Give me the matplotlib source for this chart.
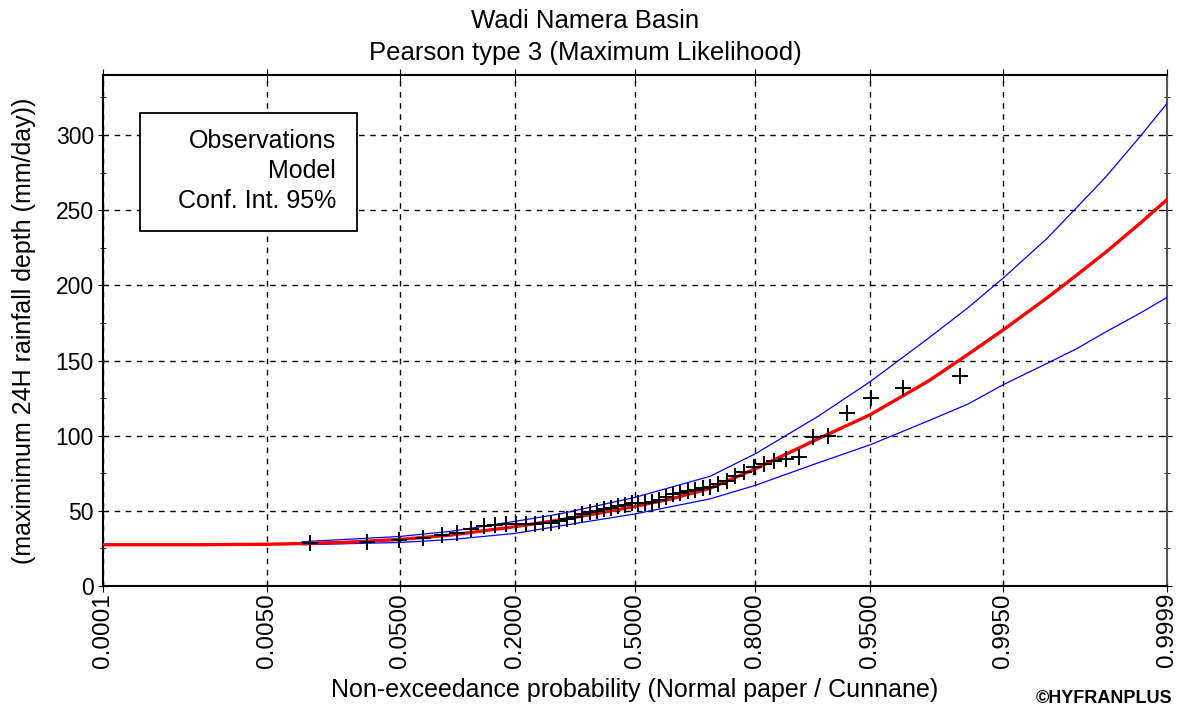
import matplotlib
matplotlib.use('Agg')
import matplotlib.pyplot as plt
from matplotlib.patches import Rectangle
from statistics import NormalDist

plt.rcParams['font.family'] = ['Liberation Sans', 'DejaVu Sans']

nd = NormalDist()

# x axis ticks (non-exceedance probability on normal paper)
tick_probs = [0.0001, 0.005, 0.05, 0.2, 0.5, 0.8, 0.95, 0.995, 0.9999]
tick_labels = ['0.0001', '0.0050', '0.0500', '0.2000', '0.5000', '0.8000', '0.9500', '0.9950', '0.9999']

# observed maxima (sorted), plotted at Cunnane positions
obs = [28.5, 29.5, 30.5, 32, 34, 35.5, 38, 40, 40.5, 41, 41, 41, 41.5, 42, 42, 43,
       44.5, 46, 48, 49, 50, 51.5, 52, 53, 54, 55, 55, 55.5, 56, 57, 59, 61, 62, 63,
       64, 65, 66, 68, 70, 73, 76, 79, 81, 83, 84.5, 86, 99, 100, 115, 125, 132, 140]

# fitted model
model_p = [0.0001, 0.001, 0.005, 0.01, 0.02, 0.05, 0.1, 0.2, 0.3, 0.4, 0.5, 0.6, 0.7,
           0.8, 0.9, 0.95, 0.98, 0.99, 0.995, 0.998, 0.999, 0.9995, 0.9998, 0.9999]
model_v = [27.5, 27.5, 27.8, 28.3, 29, 31, 34, 39.5, 44, 48.5, 53, 58, 65,
           78, 98, 114, 136.5, 154, 170.5, 191.5, 207, 222, 242, 257]

# 95% confidence interval
ci_p = [0.01, 0.05, 0.1, 0.2, 0.3, 0.5, 0.7, 0.8, 0.9, 0.95, 0.98, 0.99, 0.995,
        0.998, 0.999, 0.9995, 0.9998, 0.9999]
ci_up = [29.5, 33, 36.5, 43, 48, 59, 73, 88, 113, 136, 165, 185, 205,
         231, 252, 272, 300, 321]
ci_lo = [27.5, 29, 31, 35, 40, 48, 58, 67, 82, 94, 110, 121, 134,
         148, 158, 169, 182, 192]


def z(p):
    return [nd.inv_cdf(v) for v in p]


n = len(obs)
obs_p = [(i + 1 - 0.4) / (n + 0.2) for i in range(n)]

fig = plt.figure(figsize=(11.84, 7.13), dpi=100)
ax = fig.add_axes([0.087, 0.178, 0.8986, 0.717])

ax.plot(z(ci_p), ci_up, color='#0000ff', lw=0.9, zorder=3)
ax.plot(z(ci_p), ci_lo, color='#0000ff', lw=0.9, zorder=3)
ax.plot(z(model_p), model_v, color='#ff0000', lw=2.4, zorder=4)
ax.plot(z(obs_p), obs, ls='none', marker='+', color='black', ms=11, mew=1.4, zorder=5)

ax.set_xlim(nd.inv_cdf(0.0001), nd.inv_cdf(0.9999))
ax.set_ylim(0, 340)
ax.set_xticks(z(tick_probs))
ax.set_xticklabels(tick_labels, rotation=90, fontsize=17.5)
ax.set_yticks(range(0, 301, 50))
ax.set_yticks(range(25, 340, 50), minor=True)
ax.tick_params(axis='y', labelsize=16.5, direction='inout', length=7, right=True, pad=3)
ax.tick_params(axis='y', which='minor', direction='inout', length=4, right=True)
ax.tick_params(axis='x', direction='inout', length=8, top=True, pad=1)

ax.grid(True, color='black', ls=(0, (4, 4)), lw=1.0)
for s in ax.spines.values():
    s.set_linewidth(1.5)
ax.spines['right'].set_color('#555555')

ax.set_xlabel('Non-exceedance probability (Normal paper / Cunnane)', fontsize=18, labelpad=7)
ax.set_ylabel('(maximimum 24H rainfall depth (mm/day))', fontsize=18, labelpad=14)
fig.text(0.494, 0.988, 'Wadi Namera Basin\nPearson type 3 (Maximum Likelihood)',
         ha='center', va='top', fontsize=18.5, linespacing=1.45)

# legend box
ax.add_patch(Rectangle((0.035, 0.694), 0.204, 0.232, transform=ax.transAxes,
                       fill=True, facecolor='white', edgecolor='black', lw=1.3, zorder=6))
for i, t in enumerate(['Observations', 'Model', 'Conf. Int. 95%']):
    ax.text(0.219, 0.871 - i * 0.0585, t, transform=ax.transAxes, ha='right', va='center',
            fontsize=18, zorder=7)

fig.text(0.99, 0.008, '\u00a9HYFRANPLUS', ha='right', va='bottom', fontsize=13, weight='bold')

fig.savefig('out.png', dpi=100)
